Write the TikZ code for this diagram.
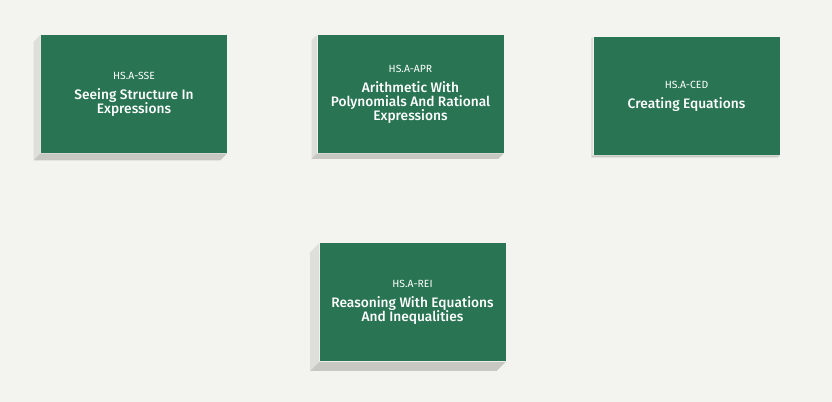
\documentclass[tikz,border=0pt]{standalone}
\usepackage{fontspec}
\setmainfont{Fira Sans}
\newfontfamily\titlefont{Fira Sans Medium}
\definecolor{topicgreen}{RGB}{41,116,83}
\definecolor{pagebg}{RGB}{243,243,239}
\definecolor{sidelight}{RGB}{222,222,218}
\definecolor{sidedark}{RGB}{200,200,195}
% sides of a raised card: node name, depth in px
\newcommand{\cardside}[2]{%
    \fill[sidelight] (#1.north west) -- ++(-#2,#2) -- ([shift={(-#2,#2)}]#1.south west) -- (#1.south west) -- cycle;
    \fill[sidedark] (#1.south west) -- (#1.south east) -- ++(-#2,#2) -- ([shift={(-#2,#2)}]#1.south west) -- cycle;
}
\newcommand{\code}[1]{{\normalfont\fontsize{7.8}{9}\selectfont #1}}
\begin{document}
\begin{tikzpicture}[x=0.75pt, y=-0.75pt,
    card/.style={fill=topicgreen, text=white, align=center, inner sep=0pt,
        minimum width=139.5pt, minimum height=88.5pt,
        font=\titlefont\fontsize{10.3}{10.5}\selectfont}]
\fill[pagebg] (0,0) rectangle (832,402);
\node[card] (sse) at (134,94) {\code{HS.A-SSE}\\[4.5pt]Seeing Structure In\\Expressions};
\node[card] (apr) at (410.5,94) {\code{HS.A-APR}\\[4.5pt]Arithmetic With\\Polynomials And Rational\\Expressions};
\node[card] (ced) at (686.5,96) {\code{HS.A-CED}\\[4.5pt]Creating Equations};
\node[card] (rei) at (412.5,302.5) {\code{HS.A-REI}\\[4.5pt]Reasoning With Equations\\And Inequalities};
\cardside{sse}{7}
\cardside{apr}{5.5}
\cardside{ced}{2}
\cardside{rei}{9}
\end{tikzpicture}
\end{document}
